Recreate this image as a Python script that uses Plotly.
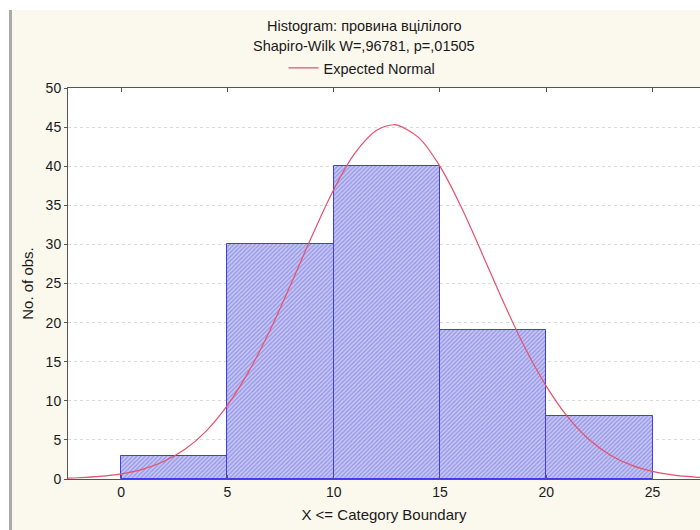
import plotly.graph_objects as go

# Histogram bins (category boundaries) and counts
bin_left = [0, 5, 10, 15, 20]
bin_right = [5, 10, 15, 20, 25]
counts = [3, 30, 40, 19, 8]

# Expected normal curve
curve_x = [-2.5, -2, -1, 0, 1, 2, 3, 4, 5, 6, 7, 8, 9, 10, 11, 12, 12.8, 13, 14, 15,
           16, 17, 18, 19, 20, 21, 22, 23, 24, 25, 26, 27, 27.5]
curve_y = [0.11, 0.16, 0.33, 0.66, 1.24, 2.23, 3.79, 6.13, 9.41, 13.73, 19.0, 24.99,
           31.2, 37.0, 41.66, 44.56, 45.3, 45.25, 43.65, 39.98, 34.77, 28.72, 22.53,
           16.78, 11.88, 7.98, 5.09, 3.08, 1.77, 0.97, 0.5, 0.25, 0.17]

x_ticks = [0, 5, 10, 15, 20, 25]
y_ticks = [0, 5, 10, 15, 20, 25, 30, 35, 40, 45, 50]

title_line1 = "Histogram: провина вцілілого"
title_line2 = "Shapiro-Wilk W=,96781, p=,01505"

FONT = "Liberation Sans, Arial, sans-serif"
CREAM = "#FBF8EE"
TXT = "#1a1a1a"

centers = [(a + b) / 2 for a, b in zip(bin_left, bin_right)]
widths = [b - a for a, b in zip(bin_left, bin_right)]

fig = go.Figure()
fig.add_trace(go.Bar(
    x=centers, y=counts, width=widths, showlegend=False,
    marker=dict(
        color="#C0C0F2",
        line=dict(color="#3C3CF0", width=1),
        pattern=dict(shape="/", fgcolor="#6464DC", bgcolor="#C8C8F4", size=3, solidity=0.45),
    ),
    hoverinfo="skip",
))
fig.add_trace(go.Scatter(
    x=curve_x, y=curve_y, mode="lines", name="Expected Normal",
    line=dict(color="#E8506A", width=1.2, shape="spline"),
))

L, T, R, B = 68, 88, 0, 51
W, H = 700, 530
pw = W - L - R
ph = H - T - B

def px2x(px):
    return (px - L) / pw

def py2y(py):
    return (H - B - py) / ph

shapes = [
    dict(type="rect", xref="paper", yref="paper", x0=px2x(0), x1=px2x(W), y0=py2y(0), y1=py2y(10),
         fillcolor="white", line=dict(width=0), layer="below"),
    dict(type="rect", xref="paper", yref="paper", x0=px2x(0), x1=px2x(9), y0=py2y(0), y1=py2y(H),
         fillcolor="white", line=dict(width=0), layer="below"),
    dict(type="rect", xref="paper", yref="paper", x0=px2x(9), x1=px2x(12), y0=py2y(10), y1=py2y(H),
         fillcolor="#A9A9A9", line=dict(width=0), layer="below"),
]

annotations = [
    dict(text=title_line1, xref="paper", yref="paper", x=px2x(364), y=py2y(26),
         showarrow=False, font=dict(family=FONT, size=14.5, color=TXT), xanchor="center", yanchor="middle"),
    dict(text=title_line2, xref="paper", yref="paper", x=px2x(364), y=py2y(46),
         showarrow=False, font=dict(family=FONT, size=14.5, color=TXT), xanchor="center", yanchor="middle"),
]

fig.update_layout(
    width=W, height=H,
    margin=dict(l=L, r=R, t=T, b=B),
    paper_bgcolor=CREAM, plot_bgcolor="white",
    font=dict(family=FONT, size=14, color=TXT),
    shapes=shapes, annotations=annotations,
    showlegend=True,
    legend=dict(orientation="h", x=px2x(362), y=py2y(68), xanchor="center", yanchor="middle",
                bgcolor="rgba(0,0,0,0)", font=dict(family=FONT, size=14.5, color=TXT),
                itemwidth=30),
    bargap=0,
    xaxis=dict(range=[-2.5, (W - 121) / 21.26], tickmode="array", tickvals=x_ticks,
               showgrid=False, zeroline=False, showline=True, mirror="ticks", linecolor="#555",
               linewidth=1, ticks="inside", ticklen=4, tickcolor="#555",
               tickfont=dict(size=14),
               title=dict(text="X <= Category Boundary", standoff=10, font=dict(size=15))),
    yaxis=dict(range=[0, 50], tickmode="array", tickvals=y_ticks,
               showgrid=True, gridcolor="#DADADA", griddash="dot", gridwidth=1,
               zeroline=False, showline=True, mirror=True, linecolor="#555", linewidth=1,
               ticks="outside", ticklen=3, tickcolor="#555",
               tickfont=dict(size=14),
               title=dict(text="No. of obs.", standoff=8, font=dict(size=15))),
)

fig.write_html("out.html")
